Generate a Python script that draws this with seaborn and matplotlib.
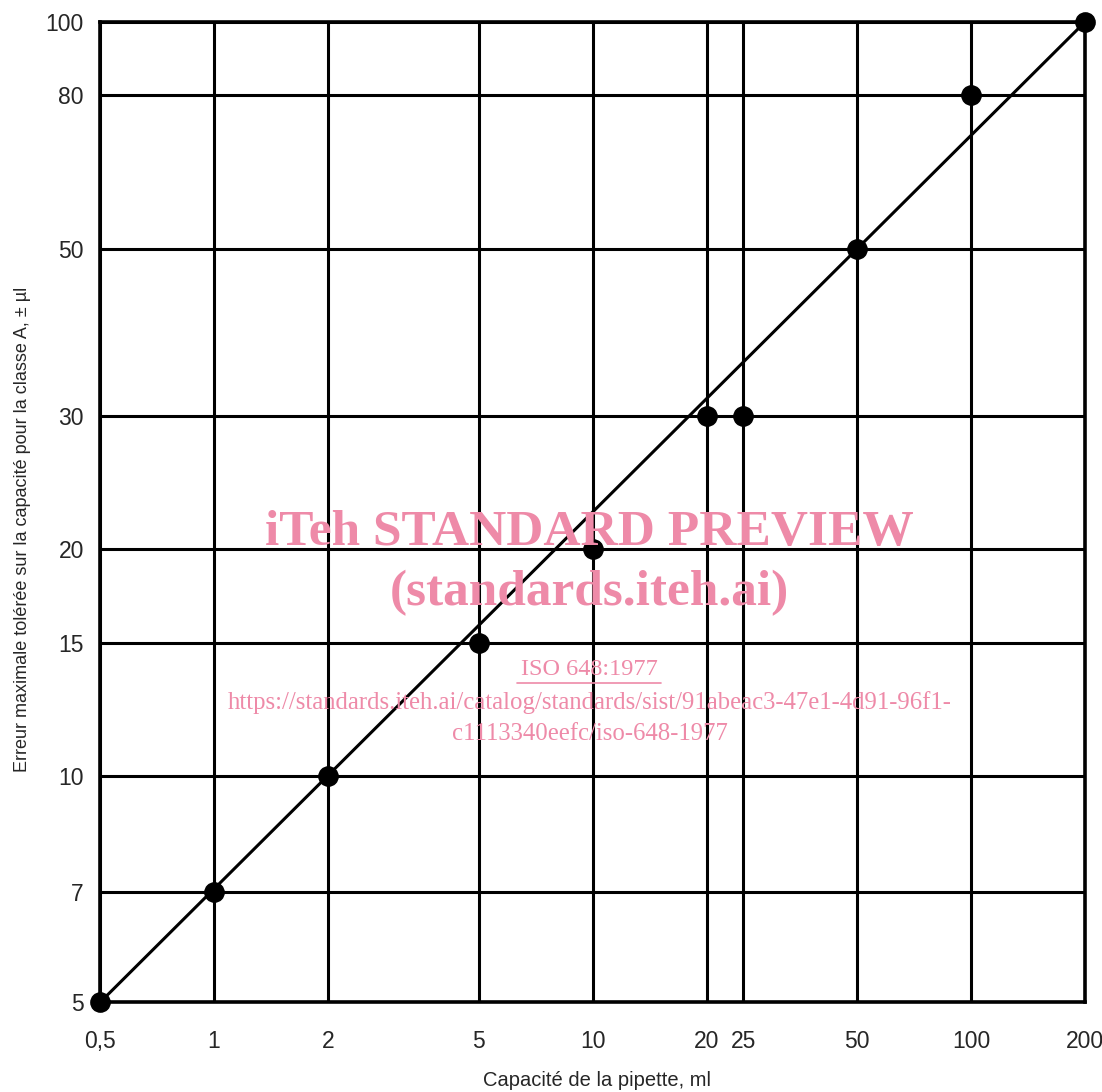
import matplotlib
matplotlib.use("Agg")
import matplotlib.pyplot as plt
import seaborn as sns
import pandas as pd
from matplotlib.ticker import FixedLocator, FixedFormatter, NullLocator

# pipette capacity (ml) vs max tolerated error, class A (+/- ul)
capacity = [0.5, 1, 2, 5, 10, 20, 25, 50, 100, 200]
error = [5, 7, 10, 15, 20, 30, 30, 50, 80, 100]
# straight trend line drawn on the log-log paper
line_x = [0.5, 200]
line_y = [5, 100]
x_ticks = [0.5, 1, 2, 5, 10, 20, 25, 50, 100, 200]
x_labels = ["0,5", "1", "2", "5", "10", "20", "25", "50", "100", "200"]
y_ticks = [5, 7, 10, 15, 20, 30, 50, 80, 100]
y_labels = ["5", "7", "10", "15", "20", "30", "50", "80", "100"]

sns.set_style("white")
plt.rcParams['font.family'] = ['Liberation Sans', 'DejaVu Sans']

df = pd.DataFrame({'Capacite': capacity, 'Erreur': error})
df_line = pd.DataFrame({'x': line_x, 'y': line_y})

fig = plt.figure(figsize=(11.02, 10.92), dpi=100)
ax = fig.add_axes([0.0907, 0.082, 0.894, 0.898])

sns.lineplot(data=df_line, x='x', y='y', ax=ax, color='black', linewidth=2.2, zorder=3)
sns.scatterplot(data=df, x='Capacite', y='Erreur', ax=ax, color='black', s=190,
                edgecolor='black', zorder=4, clip_on=False)

ax.set_xscale('log')
ax.set_yscale('log')
ax.set_xlim(0.5, 200)
ax.set_ylim(5, 100)

ax.xaxis.set_major_locator(FixedLocator(x_ticks))
ax.xaxis.set_major_formatter(FixedFormatter(x_labels))
ax.xaxis.set_minor_locator(NullLocator())
ax.yaxis.set_major_locator(FixedLocator(y_ticks))
ax.yaxis.set_major_formatter(FixedFormatter(y_labels))
ax.yaxis.set_minor_locator(NullLocator())

ax.grid(True, which='major', color='black', linewidth=2.2)
ax.set_axisbelow(True)
ax.tick_params(axis='x', length=0, labelsize=16.5, pad=20)
ax.tick_params(axis='y', length=0, labelsize=16.5, pad=11.5)
for sp in ax.spines.values():
    sp.set_color('black')
    sp.set_linewidth(2.6)

ax.set_xlabel('Capacité de la pipette, ml', fontsize=14.5)
ax.set_ylabel('Erreur maximale tolérée sur la capacité pour la classe A, ± µl', fontsize=13)
ax.yaxis.set_label_coords(-0.07, 0.482)
ax.xaxis.set_label_coords(0.505, -0.07)

# watermark of the source preview
pink = '#ee8aa8'
fig.text(0.535, 0.512, 'iTeh STANDARD PREVIEW', ha='center', va='center', color=pink,
         fontsize=37, fontweight='bold', family='Liberation Serif', zorder=10)
fig.text(0.535, 0.457, '(standards.iteh.ai)', ha='center', va='center', color=pink,
         fontsize=37, fontweight='bold', family='Liberation Serif', zorder=10)
fig.text(0.535, 0.387, 'ISO 648:1977', ha='center', va='center', color=pink,
         fontsize=17.5, family='Liberation Serif', zorder=10)
fig.text(0.535, 0.357, 'https://standards.iteh.ai/catalog/standards/sist/91abeac3-47e1-4d91-96f1-',
         ha='center', va='center', color=pink, fontsize=17.8, family='Liberation Serif', zorder=10)
fig.text(0.535, 0.328, 'c1113340eefc/iso-648-1977', ha='center', va='center', color=pink,
         fontsize=17.8, family='Liberation Serif', zorder=10)
fig.lines.append(plt.Line2D([0.469, 0.600], [0.375, 0.375], transform=fig.transFigure,
                            color=pink, linewidth=1.2))

fig.savefig('out.png', dpi=100)
